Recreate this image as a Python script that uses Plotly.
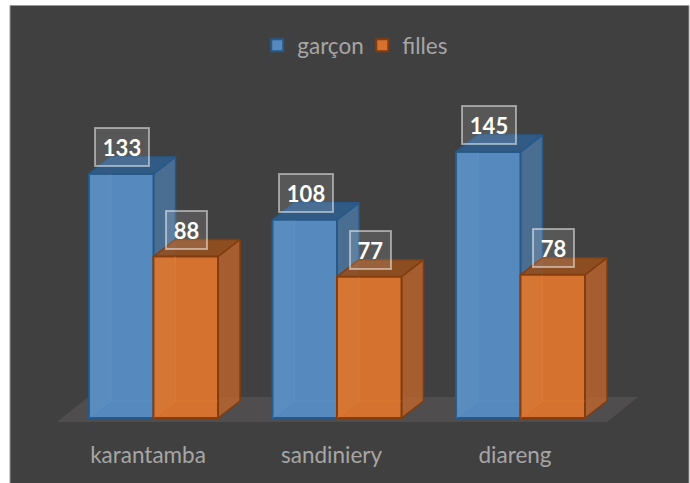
import plotly.graph_objects as go

categories = ["karantamba", "sandiniery", "diareng"]
garcon = [133, 108, 145]
filles = [88, 77, 78]
W, H = 690, 483
PX_X = 183.5           # pixels per category
PX_Y = 1.835           # pixels per value unit
X0_PX, Y0_PX = 153.5, 418
AXIS_BOTTOM_PX = 439
BAR_W = 64.5 / PX_X
DX = 22 / PX_X
DY = 17 / PX_Y
xs = list(range(len(categories)))

fig = go.Figure()


def add_series(name, values, offset, front, edge, side, top, inner, z):
    left = [x + offset for x in xs]
    for l, v in zip(left, values):
        r = l + BAR_W
        fig.add_trace(go.Scatter(x=[r, r + DX, r + DX, r, r], y=[0, DY, v + DY, v, 0], mode="lines", fill="toself",
                                 fillcolor=side, line=dict(color=edge, width=1.5), showlegend=False,
                                 hoverinfo="skip", zorder=z))
        fig.add_trace(go.Scatter(x=[l, l + DX, r + DX, r, l], y=[v, v + DY, v + DY, v, v], mode="lines", fill="toself",
                                 fillcolor=top, line=dict(color=edge, width=1.5), showlegend=False,
                                 hoverinfo="skip", zorder=z))
    fig.add_trace(go.Bar(x=[l + BAR_W / 2 for l in left], y=values, width=BAR_W, name=name,
                         marker=dict(color=front, line=dict(color=edge, width=2)), zorder=z + 1))
    for l, v in zip(left, values):
        # see-through hint of the box's hidden back edges
        fig.add_trace(go.Scatter(x=[l, l + DX, l + DX, None, l + DX, l + BAR_W],
                                 y=[0, DY, v, None, DY, DY], mode="lines",
                                 line=dict(color=inner, width=1), showlegend=False, hoverinfo="skip", zorder=z + 2))
        fig.add_trace(go.Scatter(x=[l, l + DX, l + DX, l, l], y=[0, DY, v, v, 0], mode="lines", fill="toself",
                                 fillcolor="rgba(255,255,255,0.03)", line=dict(width=0), showlegend=False,
                                 hoverinfo="skip", zorder=z + 2))


add_series("garçon", garcon, -BAR_W, "#5689BD", "#26598A", "rgba(78,128,178,0.72)", "rgba(45,98,150,0.8)",
           "rgba(91,155,213,0.35)", 1)
add_series("filles", filles, 0, "#D5722F", "#843C0C", "rgba(195,103,45,0.78)", "rgba(150,78,28,0.88)",
           "rgba(237,125,49,0.4)", 4)

annotations = []
for vals, off in ((garcon, -BAR_W / 2), (filles, BAR_W / 2)):
    for x, v in zip(xs, vals):
        annotations.append(dict(x=x + off, y=v, xref="x", yref="y", text=f"<b>{v}</b>", showarrow=False,
                                yanchor="bottom", yshift=7, xshift=1,
                                width=52 if v >= 100 else 39, height=36,
                                font=dict(family="Lato", size=22, color="#ffffff"),
                                bgcolor="rgba(255,255,255,0.12)", bordercolor="rgba(255,255,255,0.48)",
                                borderwidth=2, borderpad=0))

fx = lambda px: (px - X0_PX) / PX_X
fy = lambda py: (Y0_PX - py) / PX_Y
floor_path = (f"M{fx(57)},{fy(422)} L{fx(607)},{fy(422)} L{fx(638)},{fy(397)} L{fx(88)},{fy(397)} Z")

fig.update_layout(
    width=W, height=H,
    margin=dict(l=0, r=0, t=0, b=0),
    paper_bgcolor="#ffffff", plot_bgcolor="rgba(0,0,0,0)",
    barmode="overlay",
    font=dict(family="Lato", color="#A6A6A6"),
    xaxis=dict(range=[fx(0), fx(W)], tickmode="array", tickvals=[x - 0.03 for x in xs], ticktext=categories,
               tickfont=dict(size=22.5, color="#A6A6A6"), showgrid=False, zeroline=False, showline=False,
               ticks="", fixedrange=True),
    yaxis=dict(domain=[(H - AXIS_BOTTOM_PX) / H, 1], range=[fy(AXIS_BOTTOM_PX), fy(0)], visible=False,
               fixedrange=True),
    legend=dict(orientation="h", x=0.525, xanchor="center", y=0.95, yanchor="top", bgcolor="rgba(0,0,0,0)",
                font=dict(size=22.5, color="#A6A6A6"), entrywidth=60, itemclick=False, itemdoubleclick=False),
    annotations=annotations,
    shapes=[
        dict(type="rect", xref="paper", yref="paper", x0=10 / W, x1=689 / W, y0=-0.01, y1=(H - 5.5) / H,
             fillcolor="#404040", line=dict(color="#999999", width=1), layer="below"),
        dict(type="path", xref="x", yref="y", path=floor_path, fillcolor="#4F4D4D", line=dict(width=0), layer="below"),
    ],
)

fig.write_html("out.html", config=dict(displayModeBar=False),
               post_script="document.body.style.margin='0';document.documentElement.style.overflow='hidden';")
